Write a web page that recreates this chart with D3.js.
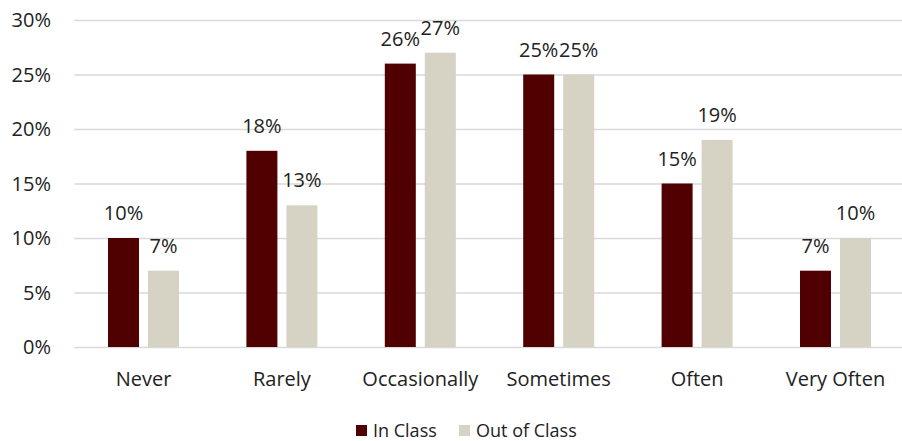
<!DOCTYPE html>
<html>
<head>
<meta charset="utf-8">
<script src="https://d3js.org/d3.v7.min.js"></script>
<style>
  body { margin: 0; background: #fff; }
  svg text { font-family: "Open Sans", "Noto Sans", sans-serif; fill: #222; }
</style>
</head>
<body>
<svg width="902" height="441"></svg>
<script>
var categories = ["Never", "Rarely", "Occasionally", "Sometimes", "Often", "Very Often"];
var seriesNames = ["In Class", "Out of Class"];
var inClass = [10, 18, 26, 25, 15, 7];
var outClass = [7, 13, 27, 25, 19, 10];
var yTicks = [0, 5, 10, 15, 20, 25, 30];
var colors = ["#500000", "#d6d2c4"];

var svg = d3.select("svg");
var plotLeft = 74.3, plotRight = 904.7, plotTop = 20, plotBottom = 347;

var x = d3.scaleBand().domain(categories).range([plotLeft, plotRight]).padding(0);
var y = d3.scaleLinear().domain([0, 30]).range([plotBottom, plotTop]);
var barW = 31, gap = 9;

// gridlines
svg.append("g").selectAll("line")
  .data(yTicks)
  .enter().append("line")
  .attr("x1", plotLeft).attr("x2", plotRight)
  .attr("y1", function(d) { return y(d) + 0.5; })
  .attr("y2", function(d) { return y(d) + 0.5; })
  .attr("stroke", "#d9d9d9")
  .attr("stroke-width", 1.5);

// y labels
svg.append("g").selectAll("text")
  .data(yTicks)
  .enter().append("text")
  .attr("x", 51)
  .attr("y", function(d) { return y(d); })
  .attr("dy", "0.35em")
  .attr("text-anchor", "end")
  .style("font-size", "20px")
  .text(function(d) { return d + "%"; });

var series = [inClass, outClass];
series.forEach(function(vals, s) {
  var g = svg.append("g");
  function bx(d, i) {
    var c = x(categories[i]) + x.bandwidth() / 2;
    return s === 0 ? c - gap / 2 - barW : c + gap / 2;
  }
  g.selectAll("rect")
    .data(vals)
    .enter().append("rect")
    .attr("x", bx)
    .attr("y", function(d) { return y(d); })
    .attr("width", barW)
    .attr("height", function(d) { return plotBottom - y(d); })
    .attr("fill", colors[s]);
  g.selectAll("text")
    .data(vals)
    .enter().append("text")
    .attr("x", function(d, i) { return bx(d, i) + barW / 2; })
    .attr("y", function(d) { return y(d) - 18; })
    .attr("text-anchor", "middle")
    .style("font-size", "20px")
    .text(function(d) { return d + "%"; });
});

// x labels
svg.append("g").selectAll("text")
  .data(categories)
  .enter().append("text")
  .attr("x", function(d) { return x(d) + x.bandwidth() / 2; })
  .attr("y", 386)
  .attr("text-anchor", "middle")
  .style("font-size", "20px")
  .text(function(d) { return d; });

// legend
var legendX = [356, 459];
var leg = svg.append("g");
seriesNames.forEach(function(name, i) {
  leg.append("rect")
    .attr("x", legendX[i]).attr("y", 425)
    .attr("width", 11).attr("height", 11)
    .attr("fill", colors[i]);
  leg.append("text")
    .attr("x", legendX[i] + 17).attr("y", 436.5)
    .style("font-size", "18px")
    .text(name);
});
</script>
</body>
</html>
